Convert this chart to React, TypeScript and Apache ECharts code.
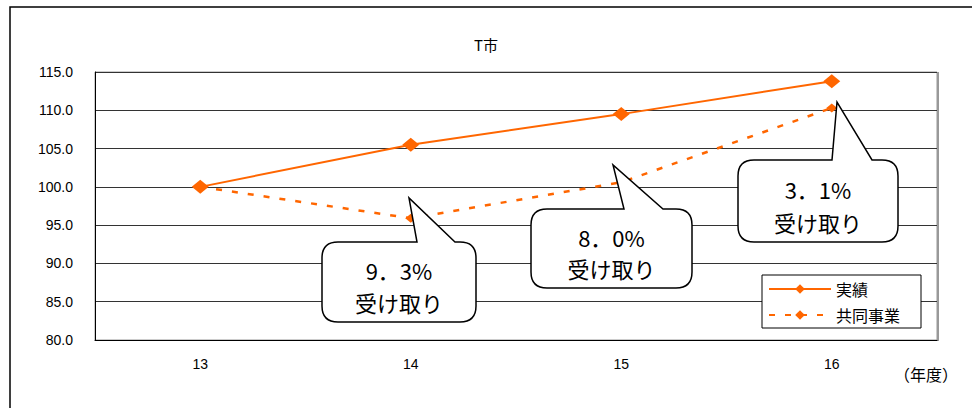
import React, { useEffect, useRef } from "react";
import * as echarts from "echarts";

const categories = ["13", "14", "15", "16"];
const actualValues = [100.0, 105.5, 109.5, 113.8];
const jointValues = [100.0, 95.9, 100.6, 110.3];
const seriesNames = ["実績", "共同事業"];
const yTicks = { min: 80, max: 115, interval: 5 };
const calloutRates = ["9．3%", "8．0%", "3．1%"];
const calloutLabel = "受け取り";

const ORANGE = "#FF6600";
const FONT = "'Liberation Sans', 'Noto Sans CJK JP', sans-serif";
const CJK = "'Noto Sans CJK JP', 'Liberation Sans', sans-serif";

type Bubble = { x1: number; y1: number; x2: number; y2: number; bx1: number; bx2: number; tx: number; ty: number };
const bubbles: Bubble[] = [
  { x1: 322, y1: 242, x2: 476, y2: 322, bx1: 417, bx2: 455, tx: 409, ty: 198 },
  { x1: 531, y1: 209, x2: 692, y2: 288, bx1: 624, bx2: 663, tx: 613, ty: 165 },
  { x1: 738, y1: 160, x2: 898, y2: 242, bx1: 832, bx2: 872, tx: 837, ty: 102 },
];

function bubblePath(b: Bubble, r: number) {
  const { x1, y1, x2, y2, bx1, bx2, tx, ty } = b;
  return (
    `M ${x1 + r} ${y1} L ${bx1} ${y1} L ${tx} ${ty} L ${bx2} ${y1} L ${x2 - r} ${y1} ` +
    `Q ${x2} ${y1} ${x2} ${y1 + r} L ${x2} ${y2 - r} Q ${x2} ${y2} ${x2 - r} ${y2} ` +
    `L ${x1 + r} ${y2} Q ${x1} ${y2} ${x1} ${y2 - r} L ${x1} ${y1 + r} Q ${x1} ${y1} ${x1 + r} ${y1} Z`
  );
}

bubbles.forEach((b, i) => {
  echarts.graphic.registerShape("bubble" + i, echarts.graphic.extendPath(bubblePath(b, 16), {}));
});

export default function App() {
  const ref = useRef<HTMLDivElement>(null);
  useEffect(() => {
    if (!ref.current) return;
    const chart = echarts.init(ref.current, null, { renderer: "svg" });
    const bubbleGraphics: any[] = [];
    bubbles.forEach((b, i) => {
      const cx = (b.x1 + b.x2) / 2;
      const h = b.y2 - b.y1;
      bubbleGraphics.push({
        type: "bubble" + i,
        x: 0,
        y: 0,
        z: 100,
        style: { fill: "#fff", stroke: "#000", lineWidth: 1.5 },
      });
      bubbleGraphics.push({
        type: "text",
        z: 101,
        x: cx,
        y: b.y1 + h * 0.35,
        style: { text: calloutRates[i], fontSize: 22, fontFamily: CJK, fill: "#000", align: "center", verticalAlign: "middle" },
      });
      bubbleGraphics.push({
        type: "text",
        z: 101,
        x: cx,
        y: b.y1 + h * 0.75,
        style: { text: calloutLabel, fontSize: 22, fontFamily: CJK, fill: "#000", align: "center", verticalAlign: "middle" },
      });
    });
    chart.setOption({
      animation: false,
      backgroundColor: "#fff",
      textStyle: { fontFamily: FONT },
      title: {
        text: "T市",
        left: "center",
        top: 32,
        textStyle: { fontSize: 15, fontWeight: "normal", color: "#000", fontFamily: CJK },
      },
      grid: { left: 95, right: 35, top: 72, bottom: 68, show: true, borderColor: "#999", borderWidth: 1 },
      legend: {
        orient: "vertical",
        left: 762,
        top: 275,
        itemWidth: 62,
        itemHeight: 12,
        itemGap: 10,
        padding: [6, 21, 5, 6],
        borderColor: "#000",
        borderWidth: 1,
        backgroundColor: "#fff",
        textStyle: { fontSize: 16, color: "#000", fontFamily: CJK },
        data: seriesNames,
      },
      xAxis: {
        type: "category",
        data: categories,
        boundaryGap: true,
        axisLine: { lineStyle: { color: "#000", width: 1 } },
        axisTick: { inside: true, length: 7, lineStyle: { color: "#000" } },
        axisLabel: { fontSize: 14, color: "#000", margin: 17 },
        splitLine: { show: false },
      },
      yAxis: {
        type: "value",
        min: yTicks.min,
        max: yTicks.max,
        interval: yTicks.interval,
        axisLine: { show: true, lineStyle: { color: "#000", width: 1 } },
        axisTick: { show: false },
        axisLabel: { fontSize: 14, color: "#000", margin: 22, formatter: (v: number) => v.toFixed(1) },
        splitLine: { lineStyle: { color: "#333", width: 1 } },
      },
      series: [
        {
          name: seriesNames[0],
          type: "line",
          data: actualValues,
          symbol: "diamond",
          symbolSize: [17, 14],
          itemStyle: { color: ORANGE },
          lineStyle: { color: ORANGE, width: 2 },
          z: 3,
        },
        {
          name: seriesNames[1],
          type: "line",
          data: jointValues,
          symbol: "diamond",
          symbolSize: [11, 9],
          itemStyle: { color: ORANGE },
          lineStyle: { color: ORANGE, width: 2.5, type: [6, 10] },
          z: 2,
        },
      ],
      graphic: [
        {
          type: "polyline",
          shape: { points: [[10, 420], [10, 7], [990, 7]] },
          style: { stroke: "#000", lineWidth: 1.5, fill: "none" },
          silent: true,
        },
        {
          type: "line",
          shape: { x1: 938, y1: 72, x2: 938, y2: 341 },
          style: { stroke: "#999", lineWidth: 2 },
          silent: true,
        },
        {
          type: "text",
          x: 894,
          y: 366,
          style: { text: "（年度）", fontSize: 16, fontFamily: CJK, fill: "#000" },
        },
        ...bubbleGraphics,
      ],
    });
    return () => chart.dispose();
  }, []);
  return <div ref={ref} style={{ position: "fixed", left: 0, top: 0, width: 972, height: 408 }} />;
}
